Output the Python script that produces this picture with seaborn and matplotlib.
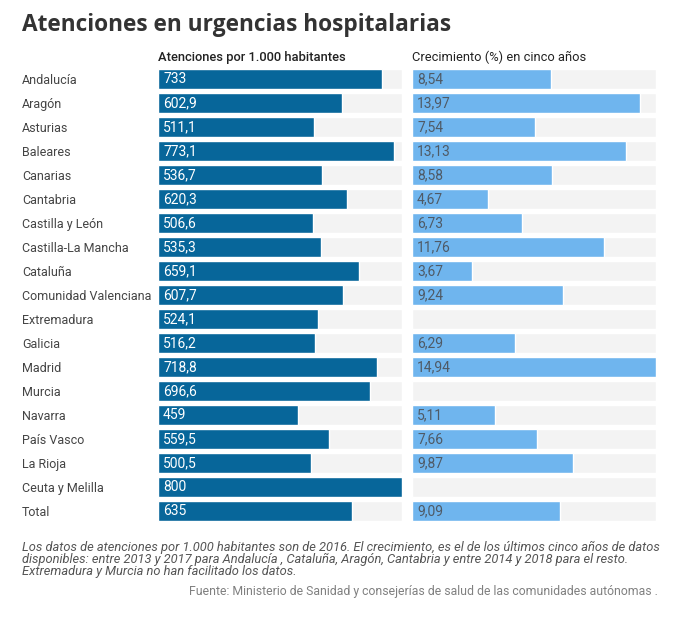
import numpy as np
import pandas as pd
import matplotlib
matplotlib.use('Agg')
import matplotlib.pyplot as plt
import seaborn as sns

regiones = ['Andalucía', 'Aragón', 'Asturias', 'Baleares', 'Canarias', 'Cantabria',
            'Castilla y León', 'Castilla-La Mancha', 'Cataluña', 'Comunidad Valenciana',
            'Extremadura', 'Galicia', 'Madrid', 'Murcia', 'Navarra', 'País Vasco',
            'La Rioja', 'Ceuta y Melilla', 'Total']
atenciones = [733, 602.9, 511.1, 773.1, 536.7, 620.3, 506.6, 535.3, 659.1, 607.7,
              524.1, 516.2, 718.8, 696.6, 459, 559.5, 500.5, 800, 635]
crecimiento = [8.54, 13.97, 7.54, 13.13, 8.58, 4.67, 6.73, 11.76, 3.67, 9.24,
               np.nan, 6.29, 14.94, np.nan, 5.11, 7.66, 9.87, np.nan, 9.09]

df = pd.DataFrame({'region': regiones, 'atenciones': atenciones, 'crecimiento': crecimiento})

sns.set_theme(style='white')
plt.rcParams['font.family'] = ['Roboto', 'DejaVu Sans']

W, H = 695, 623
fig = plt.figure(figsize=(W / 100, H / 100), dpi=100)

def px_axes(x0, x1, y0, y1):
    return fig.add_axes([x0 / W, 1 - y1 / H, (x1 - x0) / W, (y1 - y0) / H])

gris = '#f3f3f3'
azul = '#07669a'
celeste = '#6fb5ee'
bar_h = 20 / 24

ax1 = px_axes(158, 402, 67, 523)
ax2 = px_axes(412, 656, 67, 523)

max1 = max(atenciones)
max2 = np.nanmax(crecimiento)
df['fondo1'] = max1
df['fondo2'] = max2

sns.barplot(data=df, y='region', x='fondo1', color=gris, width=bar_h, ax=ax1, saturation=1)
sns.barplot(data=df, y='region', x='atenciones', color=azul, width=bar_h, ax=ax1, saturation=1)
sns.barplot(data=df, y='region', x='fondo2', color=gris, width=bar_h, ax=ax2, saturation=1)
sns.barplot(data=df, y='region', x='crecimiento', color=celeste, width=bar_h, ax=ax2, saturation=1)

for ax, mx in [(ax1, max1), (ax2, max2)]:
    ax.set_xlim(0, mx)
    ax.set_ylim(len(regiones) - 0.5, -0.5)
    ax.set_xlabel('')
    ax.set_ylabel('')
    ax.set_xticks([])
    sns.despine(ax=ax, left=True, bottom=True)

ax2.set_yticks([])
ax1.tick_params(axis='y', length=0, pad=136 * 0.72)
for lab in ax1.get_yticklabels():
    lab.set_horizontalalignment('left')
    lab.set_fontsize(9)
    lab.set_color('#444444')

off1 = max1 * 5 / 244
off2 = max2 * 5 / 244
for i, v in enumerate(atenciones):
    ax1.text(off1, i, f'{v:g}'.replace('.', ','), color='white', va='center',
             ha='left', fontsize=10)
for i, v in enumerate(crecimiento):
    if not np.isnan(v):
        ax2.text(off2, i, f'{v:.2f}'.replace('.', ','), color='#4f5a66', va='center',
                 ha='left', fontsize=10)

fig.text(22 / W, 1 - 25 / H, 'Atenciones en urgencias hospitalarias', fontsize=16.3,
         fontweight='bold', color='#333333', va='center', ha='left',
         family=['Open Sans', 'DejaVu Sans'])
fig.text(158 / W, 1 - 57 / H, 'Atenciones por 1.000 habitantes', fontsize=9.3,
         fontweight='medium', color='#222222', va='center', ha='left')
fig.text(412 / W, 1 - 57 / H, 'Crecimiento (%) en cinco años', fontsize=9.3,
         color='#222222', va='center', ha='left')

nota = ('Los datos de atenciones por 1.000 habitantes son de 2016. El crecimiento, es el de los últimos cinco años de datos\n'
        'disponibles: entre 2013 y 2017 para Andalucía , Cataluña, Aragón, Cantabria y entre 2014 y 2018 para el resto.\n'
        'Extremadura y Murcia no han facilitado los datos.')
fig.text(22 / W, 1 - 541 / H, nota, fontsize=9.3, style='italic', color='#555555',
         va='top', ha='left', linespacing=0.88)
fig.text(658 / W, 1 - 592 / H,
         'Fuente: Ministerio de Sanidad y consejerías de salud de las comunidades autónomas .',
         fontsize=8.8, color='#808080', va='center', ha='right')

fig.savefig('out.png', dpi=100, facecolor='white')
